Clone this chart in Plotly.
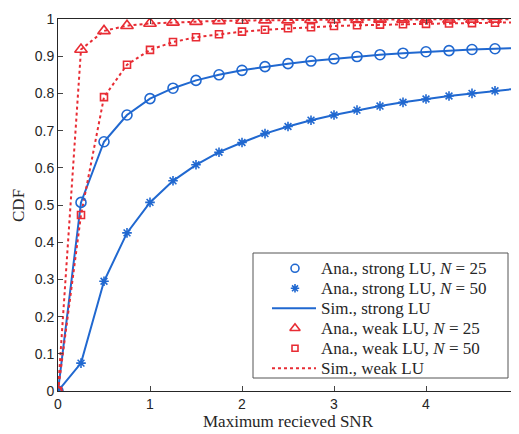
import plotly.graph_objects as go

snr = [0, 0.25, 0.5, 0.75, 1.0, 1.25, 1.5, 1.75, 2.0, 2.25, 2.5, 2.75, 3.0,
       3.25, 3.5, 3.75, 4.0, 4.25, 4.5, 4.75, 5.0]

strong_n25 = [0, 0.507, 0.670, 0.742, 0.786, 0.814, 0.835, 0.850, 0.862, 0.872,
              0.880, 0.887, 0.893, 0.899, 0.904, 0.908, 0.912, 0.915, 0.918, 0.920, 0.922]
strong_n50 = [0, 0.075, 0.295, 0.425, 0.507, 0.565, 0.608, 0.642, 0.668, 0.692,
              0.711, 0.728, 0.742, 0.755, 0.766, 0.776, 0.785, 0.793, 0.800, 0.807, 0.813]
weak_n25 = [0, 0.918, 0.968, 0.982, 0.988, 0.991, 0.993, 0.995, 0.996, 0.997,
            0.997, 0.998, 0.998, 0.998, 0.999, 0.999, 0.999, 0.999, 0.999, 0.999, 0.999]
weak_n50 = [0, 0.473, 0.790, 0.877, 0.917, 0.938, 0.951, 0.959, 0.966, 0.971,
            0.975, 0.978, 0.981, 0.983, 0.985, 0.986, 0.987, 0.988, 0.989, 0.990, 0.991]

legend_names = [
    "Ana., strong LU, <i>N</i> = 25",
    "Ana., strong LU, <i>N</i> = 50",
    "Sim., strong LU",
    "Ana., weak LU, <i>N</i> = 25",
    "Ana., weak LU, <i>N</i> = 50",
    "Sim., weak LU",
]

x_ticks = [0, 1, 2, 3, 4, 5]
y_ticks = [0, 0.1, 0.2, 0.3, 0.4, 0.5, 0.6, 0.7, 0.8, 0.9, 1]
y_tick_text = ["0", "0.1", "0.2", "0.3", "0.4", "0.5", "0.6", "0.7", "0.8", "0.9", "1"]

BLUE = "rgb(32,104,208)"
RED = "rgb(232,44,52)"
SERIF = "Liberation Serif, Times New Roman, serif"

# style of each legend entry: (kind, symbol/dash, color, size)
styles = [
    ("marker", "circle-open", BLUE, 8),
    ("marker", "asterisk-open", BLUE, 7),
    ("line", "solid", BLUE, 2),
    ("marker", "triangle-up-open", RED, 9),
    ("marker", "square-open", RED, 6),
    ("line", "dot", RED, 2),
]

fig = go.Figure()

# Simulation lines
for ys in (strong_n25, strong_n50):
    fig.add_trace(go.Scatter(x=snr, y=ys, mode="lines", showlegend=False, hoverinfo="skip",
                             line=dict(color=BLUE, width=2)))
for ys in (weak_n25, weak_n50):
    fig.add_trace(go.Scatter(x=snr, y=ys, mode="lines", showlegend=False, hoverinfo="skip",
                             line=dict(color=RED, width=2, dash="dot")))

# Analytical markers
fig.add_trace(go.Scatter(x=snr, y=strong_n25, mode="markers", name=legend_names[0], showlegend=False,
                         marker=dict(symbol="circle-open", size=10, color=BLUE,
                                     line=dict(width=1.6, color=BLUE))))
fig.add_trace(go.Scatter(x=snr, y=strong_n50, mode="markers", name=legend_names[1], showlegend=False,
                         marker=dict(symbol="asterisk-open", size=8, color=BLUE,
                                     line=dict(width=1.6, color=BLUE))))
fig.add_trace(go.Scatter(x=snr, y=weak_n25, mode="markers", name=legend_names[3], showlegend=False,
                         marker=dict(symbol="triangle-up-open", size=11, color=RED,
                                     line=dict(width=1.6, color=RED))))
fig.add_trace(go.Scatter(x=snr, y=weak_n50, mode="markers", name=legend_names[4], showlegend=False,
                         marker=dict(symbol="square-open", size=7, color=RED,
                                     line=dict(width=1.6, color=RED))))

# Legend drawn on an overlay axis measured in screen pixels (box at a fixed place)
LEG_LEFT, LEG_RIGHT, LEG_TOP, LEG_BOTTOM = 253, 508, 253, 378
ROW0, ROW_STEP = 268.3, 20
KEY_X, KEY_L, KEY_R, TEXT_X = 295, 272, 316, 319

shapes = [dict(type="rect", xref="x2", yref="y2", x0=LEG_LEFT, x1=LEG_RIGHT,
               y0=LEG_TOP, y1=LEG_BOTTOM, line=dict(color="#555555", width=1),
               fillcolor="white", layer="below")]
annotations = []
for i, (name, (kind, sym, col, sz)) in enumerate(zip(legend_names, styles)):
    yr = ROW0 + i * ROW_STEP
    if kind == "marker":
        fig.add_trace(go.Scatter(x=[KEY_X], y=[yr], xaxis="x2", yaxis="y2", mode="markers",
                                 showlegend=False, hoverinfo="skip",
                                 marker=dict(symbol=sym, size=sz, color=col,
                                             line=dict(width=1.6, color=col))))
    else:
        fig.add_trace(go.Scatter(x=[KEY_L, KEY_R], y=[yr, yr], xaxis="x2", yaxis="y2", mode="lines",
                                 showlegend=False, hoverinfo="skip",
                                 line=dict(color=col, width=sz, dash=sym)))
    annotations.append(dict(text=name, xref="x2", yref="y2", x=TEXT_X, y=yr,
                            xanchor="left", yanchor="middle", showarrow=False,
                            font=dict(family=SERIF, size=17, color="#262626")))

annotations += [
    dict(text="Maximum recieved SNR", xref="paper", yref="paper",
         x=0.5, y=-0.083, xanchor="center", yanchor="middle", showarrow=False,
         font=dict(family=SERIF, size=17, color="#262626")),
    dict(text="CDF", xref="paper", yref="paper", textangle=-90,
         x=-0.087, y=0.5, xanchor="center", yanchor="middle", showarrow=False,
         font=dict(family=SERIF, size=17, color="#262626")),
]

# The page adds an 8px body margin, so the figure is 8px smaller and shifted.
fig.update_layout(
    width=511, height=426,
    margin=dict(l=50, r=1, t=11, b=43),
    paper_bgcolor="white", plot_bgcolor="white",
    font=dict(family="Liberation Sans, Arial, sans-serif", size=14, color="#262626"),
    showlegend=False,
    shapes=shapes,
    annotations=annotations,
    xaxis2=dict(overlaying="x", range=[58, 518], visible=False, fixedrange=True),
    yaxis2=dict(overlaying="y", range=[391, 19], visible=False, fixedrange=True),
)
fig.update_layout(
    xaxis=dict(range=[0, 5], tickvals=x_ticks, ticks="inside", ticklen=5,
               showline=True, linecolor="#262626", linewidth=1, mirror="ticks",
               showgrid=False, zeroline=False, automargin=False,
               ticklabeloverflow="allow"),
    yaxis=dict(range=[0, 1], tickvals=y_ticks, ticktext=y_tick_text, ticks="inside", ticklen=5,
               showline=True, linecolor="#262626", linewidth=1, mirror="ticks",
               showgrid=False, zeroline=False, automargin=False),
)

fig.write_html("out.html")
